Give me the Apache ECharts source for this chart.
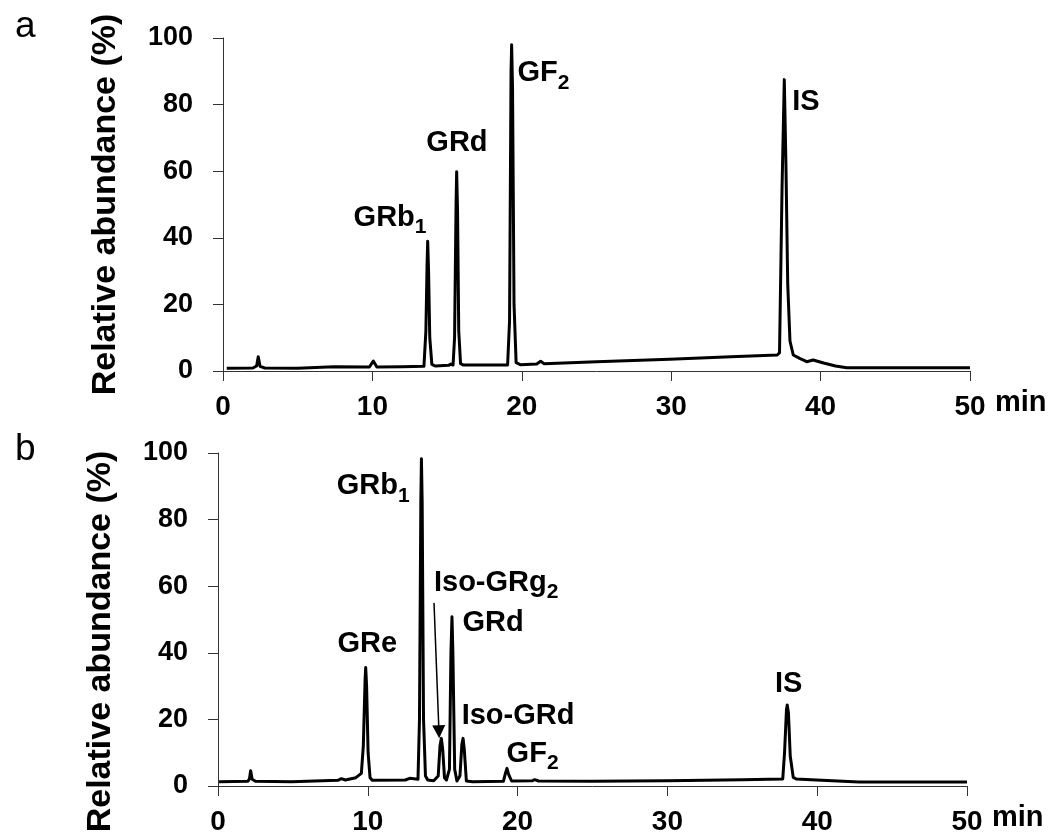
<!DOCTYPE html>
<html>
<head>
<meta charset="utf-8">
<script src="https://cdn.jsdelivr.net/npm/echarts@6/dist/echarts.min.js"></script>
<style>
  html, body { margin: 0; padding: 0; background: #fff; }
  #chart { width: 1054px; height: 838px; }
</style>
</head>
<body>
<div id="chart"></div>
<script>
// chromatogram traces, [time (min), relative abundance (%)]
const traceA = [
  [0.25, 0.8], [2.0, 0.9], [2.25, 1.5], [2.36, 4.3], [2.48, 1.4], [2.8, 0.9], [5, 0.8],
  [7.4, 1.3], [9.8, 1.2], [10.06, 3.0], [10.3, 1.2], [12, 1.3],
  [13.45, 1.4], [13.58, 12], [13.66, 32], [13.7, 39], [13.76, 30], [13.84, 10], [13.98, 2], [14.2, 1.5],
  [15.1, 1.7], [15.25, 2.1], [15.4, 1.8], [15.5, 10], [15.6, 50], [15.64, 59.8], [15.7, 48], [15.78, 12],
  [15.9, 2.2], [16.1, 1.8], [19.05, 1.8], [19.18, 15], [19.28, 90], [19.32, 98], [19.38, 85], [19.48, 20],
  [19.62, 2.5], [19.9, 1.9], [21.0, 2.1], [21.26, 2.9], [21.5, 2.2], [25, 2.8], [29.9, 3.5], [34, 4.3],
  [37.1, 4.8], [37.25, 5.5], [37.42, 55], [37.57, 87.5], [37.68, 62], [37.8, 26], [37.95, 9], [38.17, 4.8],
  [38.6, 3.8], [39.07, 2.8], [39.2, 3.3], [39.5, 3.3], [40.2, 2.4], [41.0, 1.5], [41.75, 1.0], [50, 1.0]
];

const traceB = [
  [0.07, 1.3], [2.0, 1.4], [2.1, 2.2], [2.18, 4.6], [2.28, 2.0], [2.5, 1.4], [4.9, 1.3], [5.0, 1.6],
  [8.0, 1.7], [8.24, 2.2], [8.5, 1.8], [9.2, 2.5], [9.57, 3.8], [9.7, 12], [9.82, 32], [9.86, 35.6],
  [9.92, 30], [10.02, 10], [10.15, 2.5], [10.3, 1.7], [12.5, 1.8], [12.8, 2.3], [13.35, 2.0],
  [13.45, 20], [13.54, 85], [13.58, 98.3], [13.63, 85], [13.72, 20], [13.85, 3], [14.0, 1.8], [14.4, 1.6],
  [14.7, 3], [14.82, 12], [14.91, 14.3], [15.0, 11], [15.12, 2.5], [15.25, 1.8],
  [15.45, 5], [15.55, 40], [15.62, 50.8], [15.68, 40], [15.8, 5], [15.95, 1.5],
  [16.15, 3], [16.28, 12.5], [16.36, 14.3], [16.44, 11], [16.58, 1.5], [17, 1.3],
  [19.05, 1.4], [19.2, 4], [19.29, 5.3], [19.4, 3.5], [19.6, 1.5], [21.0, 1.6], [21.14, 1.9], [21.4, 1.5],
  [25, 1.4], [30, 1.6], [35, 1.9], [37.7, 2.1], [37.82, 10], [37.95, 23], [38.0, 24.3], [38.08, 22],
  [38.2, 9], [38.4, 2.6], [38.6, 2.1], [39.95, 1.8], [42.8, 1.2], [50, 1.2]
];

// peak names: [main text, subscript, time, abundance] (label anchor in data units)
const peaksA = [
  ['GRb', '1', 11.18, 45.9],
  ['GRd', '', 15.66, 68.6],
  ['GF', '2', 21.45, 89.4],
  ['IS', '', 39.02, 80.8]
];
const peaksB = [
  ['GRb', '1', 10.36, 90],
  ['GRe', '', 9.96, 42.6],
  ['Iso-GRg', '2', 18.57, 60.9],
  ['GRd', '', 18.36, 49],
  ['Iso-GRd', '', 20.03, 21],
  ['GF', '2', 21.0, 9.6],
  ['IS', '', 38.1, 30.6]
];
// arrow pointing at Iso-GRg2
const arrowB = [[14.42, 55], [14.75, 16.3]];

const xTicks = { min: 0, max: 50, interval: 10 };
const yTicks = { min: 0, max: 100, interval: 20 };

const FONT = 'Liberation Sans, Arial, sans-serif';

const chart = echarts.init(document.getElementById('chart'));

const xAxisOpt = (gridIndex) => ({
  type: 'value',
  gridIndex,
  ...xTicks,
  name: 'min',
  nameLocation: 'end',
  nameGap: 25,
  nameTextStyle: {
    fontFamily: FONT, fontWeight: 'bold', fontSize: 29, color: '#000',
    align: 'left', verticalAlign: 'top', padding: [17, 0, 0, 0]
  },
  axisLine: { show: true, lineStyle: { color: '#333', width: 1 } },
  axisTick: { show: true, length: 10, lineStyle: { color: '#333', width: 1 } },
  axisLabel: { fontFamily: FONT, fontWeight: 'bold', fontSize: 28, color: '#000', margin: 22 },
  splitLine: { show: false }
});

// name shift along the axis (panel b label sits a little lower)
const yAxisOpt = (gridIndex, namePadRight) => ({
  type: 'value',
  gridIndex,
  ...yTicks,
  name: 'Relative abundance (%)',
  nameLocation: 'middle',
  nameGap: 100,
  nameTextStyle: {
    fontFamily: FONT, fontWeight: 'bold', fontSize: 34, color: '#000',
    padding: [0, namePadRight, 0, 0]
  },
  axisLine: { show: true, lineStyle: { color: '#333', width: 1 } },
  axisTick: { show: true, length: 10, lineStyle: { color: '#333', width: 1 } },
  axisLabel: { fontFamily: FONT, fontWeight: 'bold', fontSize: 27, color: '#000', margin: 30 },
  splitLine: { show: false }
});

const peakMarks = (peaks) => ({
  silent: true,
  symbol: 'circle',
  symbolSize: 0,
  data: peaks.map(([m, s, t, v]) => ({ coord: [t, v], value: m, sub: s })),
  label: {
    show: true,
    position: 'inside',
    formatter: (p) => p.data.sub ? `{m|${p.data.value}}{s|${p.data.sub}}` : `{m|${p.data.value}}`,
    rich: {
      m: { fontFamily: FONT, fontWeight: 'bold', fontSize: 29, color: '#000', lineHeight: 40, verticalAlign: 'middle' },
      s: { fontFamily: FONT, fontWeight: 'bold', fontSize: 21, color: '#000', verticalAlign: 'bottom' }
    }
  }
});

const lineSeries = (data, idx, peaks) => ({
  type: 'line',
  xAxisIndex: idx,
  yAxisIndex: idx,
  data,
  symbol: 'none',
  smooth: false,
  lineStyle: { color: '#000', width: 3, join: 'round' },
  emphasis: { disabled: true },
  markPoint: peakMarks(peaks)
});

const seriesB = lineSeries(traceB, 1, peaksB);
seriesB.markLine = {
  silent: true,
  symbol: ['none', 'triangle'],
  symbolSize: [13, 13],
  label: { show: false },
  lineStyle: { color: '#000', width: 1.5, type: 'solid' },
  data: [[{ coord: arrowB[0] }, { coord: arrowB[1] }]]
};

const option = {
  animation: false,
  backgroundColor: '#fff',
  title: [
    { text: 'a', left: 10, top: 3, textStyle: { fontFamily: FONT, fontWeight: 'normal', fontSize: 37, color: '#000' } },
    { text: 'b', left: 10, top: 426, textStyle: { fontFamily: FONT, fontWeight: 'normal', fontSize: 37, color: '#000' } }
  ],
  grid: [
    { left: 223, top: 38, width: 747, height: 333 },
    { left: 218, top: 453, width: 749, height: 333 }
  ],
  xAxis: [xAxisOpt(0), xAxisOpt(1)],
  yAxis: [yAxisOpt(0, 0), yAxisOpt(1, 44)],
  series: [lineSeries(traceA, 0, peaksA), seriesB]
};

chart.setOption(option);
</script>
</body>
</html>
